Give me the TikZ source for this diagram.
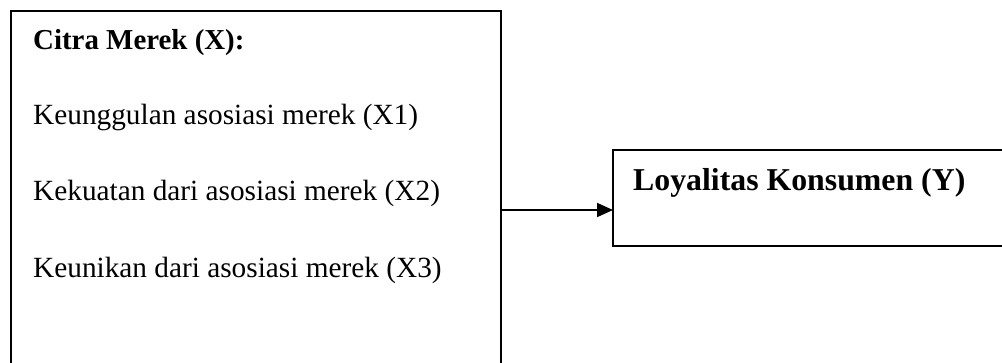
\documentclass[tikz,border=0pt]{standalone}
\usepackage{fontspec}
\setmainfont{Liberation Serif}
\usetikzlibrary{arrows.meta}
\begin{document}
\begin{tikzpicture}[x=1pt,y=1pt,
  frame/.style={draw=black, line width=1.7pt, inner sep=0pt, outer sep=0pt, anchor=north west},
  body/.style={anchor=base west, inner sep=0pt, font=\fontsize{29.3}{35}\selectfont},
  head/.style={anchor=base west, inner sep=0pt, font=\fontsize{28.9}{35}\selectfont\bfseries},
  headbig/.style={anchor=base west, inner sep=0pt, font=\fontsize{31.8}{38}\selectfont\bfseries},
  link/.style={line width=1.7pt, -{Triangle[length=16pt,width=14pt]}}]
  \useasboundingbox (0,0) rectangle (1002,-363);
  \clip (0,0) rectangle (1002,-363);
  % boxes (both run past the page edge)
  \node[frame, minimum width=490pt, minimum height=420pt] (lb) at (11,-11) {};
  \node[frame, minimum width=440pt, minimum height=96pt] (rb) at (613,-150) {};
  % texts of the left box
  \node[head] (t0) at (33,-50) {Citra Merek (X):};
  \node[body] (t1) at (33,-125) {Keunggulan asosiasi merek (X1)};
  \node[body] (t2) at (33,-201) {Kekuatan dari asosiasi merek (X2)};
  \node[body] (t3) at (33,-278) {Keunikan dari asosiasi merek (X3)};
  % text of the right box
  \node[headbig] (ty) at (633,-191) {Loyalitas Konsumen (Y)};
  % connector
  \coordinate (a0) at (lb.east |- 0,-210);
  \coordinate (a1) at (rb.west |- 0,-210);
  \draw[link] (a0) -- (a1);
\end{tikzpicture}
\end{document}
